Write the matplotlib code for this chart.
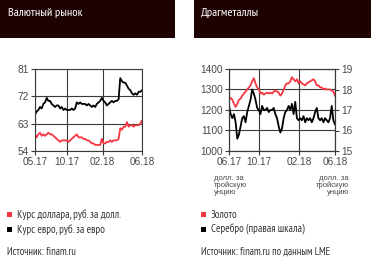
import matplotlib
matplotlib.use("Agg")
import matplotlib.pyplot as plt
from matplotlib.patches import Rectangle

plt.rcParams['font.family'] = ['Liberation Sans', 'DejaVu Sans']
NARROW = ['PT Sans Narrow', 'Roboto Condensed', 'DejaVu Sans']

# Валютный рынок, 05.17 - 06.18
fx_ticks = ["05.17", "10.17", "02.18", "06.18"]
fx_tick_pos = [0, 19, 40.4, 64]
euro = [66, 67, 67.5, 68.5, 68, 69.5, 70, 71.5, 70.5, 70.5,
        69.5, 69, 68.5, 69, 69, 68, 68.5, 67.5, 68, 67.5,
        67.5, 67.5, 68, 67.5, 68, 70, 69.5, 70, 69.5, 69.5,
        69.5, 69, 69.5, 69, 68.5, 69, 68.5, 69.5, 70, 70.5,
        71.5, 70.5, 70, 69, 69.5, 70, 70.5, 70, 70.5, 70.5,
        71, 78, 77, 76.5, 76.5, 75.5, 74.5, 74, 73, 72.5,
        73, 72.5, 73.5, 73.5, 74]
dollar = [59.5, 58.5, 59.5, 60, 59, 59.5, 59, 59.5, 60, 59.5,
          59.5, 59, 58.5, 58, 57.5, 57, 57.5, 57.5, 57.5, 57.5,
          57, 57.5, 58, 58.5, 59, 59.5, 58.5, 58.5, 58.5, 58,
          58, 57.5, 57.5, 57, 56.5, 56.5, 56, 56, 56, 56,
          58, 56.5, 56.5, 57, 57, 57.5, 57, 57.5, 57.5, 57.5,
          58, 61.5, 61, 62, 62, 63.5, 62, 62.5, 62.5, 62,
          62.5, 62.5, 62.5, 63, 64]

# Драгметаллы, 06.17 - 06.18
mt_ticks = ["06.17", "10.17", "02.18", "06.18"]
mt_tick_pos = [0, 18, 42.4, 64]
gold = [1250, 1260, 1250, 1230, 1215, 1230, 1250, 1255, 1270, 1280,
        1290, 1300, 1310, 1320, 1340, 1355, 1330, 1310, 1300, 1280,
        1285, 1275, 1280, 1285, 1280, 1285, 1280, 1290, 1295, 1290,
        1285, 1270, 1280, 1300, 1320, 1330, 1330, 1340, 1360, 1350,
        1340, 1350, 1330, 1340, 1330, 1325, 1320, 1330, 1335, 1340,
        1345, 1350, 1340, 1320, 1320, 1310, 1310, 1300, 1305, 1300,
        1300, 1300, 1295, 1290, 1270]
silver = [17.2, 16.8, 16.6, 16.8, 16.4, 15.6, 15.8, 16.2, 16.6, 16.7,
          16.4, 16.9, 17.2, 17.5, 18.0, 17.8, 17.5, 17.1, 17.0, 16.8,
          17.2, 17.0, 17.0, 17.1, 16.9, 17.0, 17.0, 17.1, 16.8, 16.6,
          16.2, 15.9, 16.1, 16.6, 16.9, 17.0, 17.2, 17.0, 17.3, 16.8,
          17.4, 16.6, 16.5, 16.6, 16.5, 16.7, 16.4, 16.6, 16.5, 16.6,
          16.4, 16.6, 16.9, 17.1, 16.6, 16.5, 16.6, 16.4, 16.6, 16.5,
          16.4, 16.6, 17.2, 16.5, 16.3]

RED = "#f73540"
DARK = "#1e0202"
GRID = "#3a3a3a"
TXT = "#4a4a4a"

W, H = 371, 262
fig = plt.figure(figsize=(W / 100, H / 100), dpi=100)
fig.patch.set_facecolor("white")


def px(x, y):
    return x / W, 1 - y / H


# headers
fig.patches.append(Rectangle(px(0, 38), 175 / W, 38 / H, transform=fig.transFigure,
                             facecolor=DARK, edgecolor="none"))
fig.patches.append(Rectangle(px(194, 38), 177 / W, 38 / H, transform=fig.transFigure,
                             facecolor=DARK, edgecolor="none"))
fig.text(*px(8, 13), "Валютный рынок", color="white", fontsize=8.8, va="center", family=NARROW)
fig.text(*px(201, 13), "Драгметаллы", color="white", fontsize=8.8, va="center", family=NARROW)


def style(ax):
    ax.grid(True, color=GRID, linewidth=0.8)
    ax.set_axisbelow(True)
    for s in ax.spines.values():
        s.set_color(GRID)
        s.set_linewidth(0.8)
    ax.tick_params(colors=GRID, labelcolor=TXT, labelsize=7.3, length=3, width=0.8, pad=1.5)


# left chart
ax1 = fig.add_axes([35 / W, 1 - 151 / H, 107 / W, 82 / H])
ax1.plot(range(len(euro)), euro, color="black", linewidth=1.3)
ax1.plot(range(len(dollar)), dollar, color=RED, linewidth=1.3)
ax1.set_xlim(0, 64)
ax1.set_ylim(54, 81)
ax1.set_yticks([54, 63, 72, 81])
ax1.set_xticks(fx_tick_pos)
ax1.set_xticklabels(fx_ticks)
style(ax1)

# right chart
ax2 = fig.add_axes([229 / W, 1 - 151 / H, 106 / W, 82 / H])
ax2.plot(range(len(gold)), gold, color=RED, linewidth=1.3)
ax2.set_xlim(0, 64)
ax2.set_ylim(1000, 1400)
ax2.set_yticks([1000, 1100, 1200, 1300, 1400])
ax2.set_xticks(mt_tick_pos)
ax2.set_xticklabels(mt_ticks)
style(ax2)
ax3 = ax2.twinx()
ax3.plot(range(len(silver)), silver, color="black", linewidth=1.3)
ax3.set_ylim(15, 19)
ax3.set_yticks([15, 16, 17, 18, 19])
style(ax3)
ax3.grid(False)

unit = "долл. за\nтройскую\nунцию"
fig.text(*px(214, 175), unit, fontsize=5.5, color=TXT, va="top", ha="left", linespacing=0.95)
fig.text(*px(349, 175), unit, fontsize=5.5, color=TXT, va="top", ha="right", linespacing=0.95)


# legends
def legend_item(x, y, color, label, tx):
    fig.patches.append(Rectangle(px(x, y + 2.5), 5 / W, 5 / H, transform=fig.transFigure,
                                 facecolor=color, edgecolor="none"))
    fig.text(*px(tx, y), label, fontsize=7.8, color="#333333", va="center", family=NARROW)


legend_item(7, 214.5, RED, "Курс доллара, руб. за долл.", 17)
legend_item(7, 229.5, "black", "Курс евро, руб. за евро", 17)
legend_item(201, 214.5, RED, "Золото", 211)
legend_item(201, 229.5, "black", "Серебро (правая шкала)", 211)
fig.text(*px(7, 252), "Источник: finam.ru", fontsize=7.6, color="#333333", va="center", family=NARROW)
fig.text(*px(201, 252), "Источник: finam.ru по данным LME", fontsize=7.6, color="#333333",
         va="center", family=NARROW)

fig.savefig("out.png", dpi=100)
